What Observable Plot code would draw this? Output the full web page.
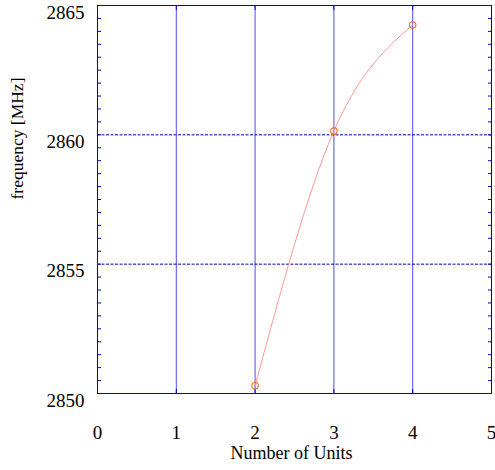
<!DOCTYPE html>
<html>
<head>
<meta charset="utf-8">
<script src="https://cdn.jsdelivr.net/npm/d3@7"></script>
<script src="https://cdn.jsdelivr.net/npm/@observablehq/plot@0.6"></script>
<style>
  html, body { margin: 0; padding: 0; background: #fff; }
</style>
</head>
<body>
<div id="chart"></div>
<script>
const units = [2, 3, 4];
const frequency = [2850.3, 2860.15, 2864.25];
const xTicks = [0, 1, 2, 3, 4, 5];
const yTicks = [2850, 2855, 2860, 2865];
const xGrid = [1, 2, 3, 4];
const yGrid = [2855, 2860];
const yMinor = d3.range(2850, 2865.01, 0.5);
const xLabel = "Number of Units";
const yLabel = "frequency [MHz]";

const data = units.map((u, i) => ({units: u, frequency: frequency[i]}));
const blue = "#0000cc";
const font = "'Liberation Serif', 'Times New Roman', serif";

const chart = Plot.plot({
  width: 495,
  height: 470,
  marginLeft: 97,
  marginRight: 4,
  marginTop: 5,
  marginBottom: 77,
  style: {fontFamily: font, fontSize: "19px", background: "#fff", color: "#000"},
  x: {domain: [0, 5]},
  y: {domain: [2850, 2865]},
  marks: [
    Plot.gridX(xGrid, {stroke: "#0000ee", strokeOpacity: 0.7, strokeWidth: 1}),
    Plot.gridY(yGrid, {stroke: "#0000aa", strokeOpacity: 1, strokeWidth: 1, strokeDasharray: "3,1.5"}),
    Plot.axisY({ticks: yMinor, anchor: "left", tickSize: -4, stroke: blue, text: null, label: null}),
    Plot.axisY({ticks: yMinor, anchor: "right", tickSize: -4, stroke: blue, text: null, label: null}),
    Plot.axisX({ticks: xGrid, anchor: "bottom", tickSize: -4, stroke: blue, text: null, label: null}),
    Plot.axisX({ticks: xGrid, anchor: "top", tickSize: -4, stroke: blue, text: null, label: null}),
    Plot.axisY({ticks: yTicks, anchor: "left", tickSize: 0, tickPadding: 13, dy: 7, fontSize: 19, fill: "#000", label: null, tickFormat: d => String(d)}),
    Plot.axisX({ticks: xTicks, anchor: "bottom", tickSize: 0, tickPadding: 31.5, fontSize: 19, fill: "#000", label: null, tickFormat: d => String(d)}),
    Plot.frame({stroke: blue, strokeWidth: 1}),
    Plot.line(data, {x: "units", y: "frequency", curve: "natural", stroke: "#ff8c8c", strokeWidth: 0.9}),
    Plot.dot(data, {x: "units", y: "frequency", r: 3.2, stroke: "#ff6a10", strokeWidth: 1.1, fill: "none"}),
    Plot.text([xLabel], {text: d => d, frameAnchor: "bottom", dx: -3, dy: 65.2, fontSize: 18, fill: "#000"}),
    Plot.text([yLabel], {text: d => d, frameAnchor: "left", rotate: -90, dx: -80, fontSize: 17.5, fill: "#000"})
  ]
});
document.getElementById("chart").appendChild(chart);
</script>
</body>
</html>
